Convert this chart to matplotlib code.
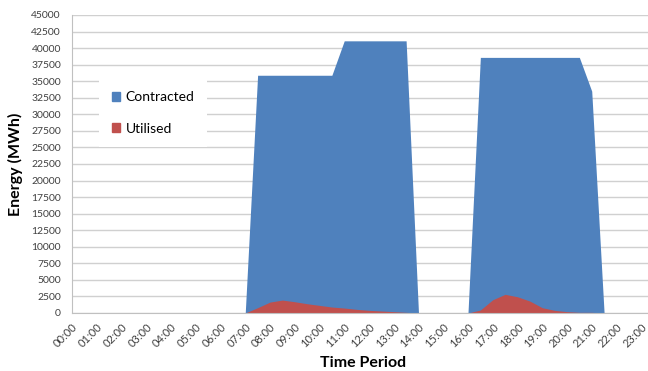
import numpy as np
import matplotlib.pyplot as plt
from matplotlib.patches import Patch

plt.rcParams['font.family'] = ['Lato', 'DejaVu Sans']

# half-hourly slots, labelled every hour
slots = ['%02d:%02d' % (h, m) for h in range(24) for m in (0, 30)]
hour_labels = ['%02d:00' % h for h in range(24)]

contracted = [0] * 14 + [0] + [35900] * 7 + [41100] * 6 + [0] \
    + [0] * 3 + [0] + [38600] * 9 + [33500] + [0] + [0] * 4
utilised = [0] * 14 + [0, 800, 1650, 1950, 1700, 1400, 1150, 900, 750,
                       550, 400, 300, 200, 100, 0] \
    + [0] * 3 + [0, 450, 2000, 2820, 2450, 1800, 800, 400, 200,
                 100, 100, 0] + [0] * 4

x = np.arange(len(slots))

fig = plt.figure(figsize=(6.48, 3.71), dpi=100)
ax = fig.add_axes([72 / 648, 58 / 371, 581.6 / 648, 298 / 371])

ax.fill_between(x, contracted, color='#4f81bd', lw=0, zorder=2)
ax.fill_between(x, utilised, color='#c0504d', lw=0, zorder=3)

ax.set_xlim(0, len(slots) - 1)
ax.set_ylim(0, 45000)
ax.set_yticks(np.arange(0, 45001, 2500))
ax.set_yticklabels([str(v) for v in range(0, 45001, 2500)],
                   fontsize=7.5, color='#404040')
ax.set_xticks(x[::2])
ax.set_xticklabels(hour_labels, rotation=45, ha='right',
                   rotation_mode='anchor', fontsize=8, color='#404040')
ax.tick_params(axis='both', length=0)
ax.tick_params(axis='y', pad=8)
ax.tick_params(axis='x', pad=6)

ax.grid(axis='y', color='#d0d0d0', lw=1, zorder=0)
for side in ('top', 'right'):
    ax.spines[side].set_visible(False)
for side in ('left', 'bottom'):
    ax.spines[side].set_color('#c0c0c0')
    ax.spines[side].set_zorder(4)

ax.set_ylabel('Energy (MWh)', fontsize=11.5, fontweight='bold', labelpad=6)
ax.set_xlabel('Time Period', fontsize=11.5, fontweight='bold', labelpad=4.5)

handles = [Patch(color='#4f81bd', label='Contracted'),
           Patch(color='#c0504d', label='Utilised')]
leg = ax.legend(handles=handles, loc='upper left',
                bbox_to_anchor=(0.035, 0.81), frameon=True, fontsize=10,
                handlelength=0.6, handleheight=0.6, handletextpad=0.4,
                labelspacing=1.4, borderpad=0.9, fancybox=False)
leg.get_frame().set_facecolor('white')
leg.get_frame().set_edgecolor('none')
leg.get_frame().set_alpha(1)

fig.savefig('out.png', dpi=100)
